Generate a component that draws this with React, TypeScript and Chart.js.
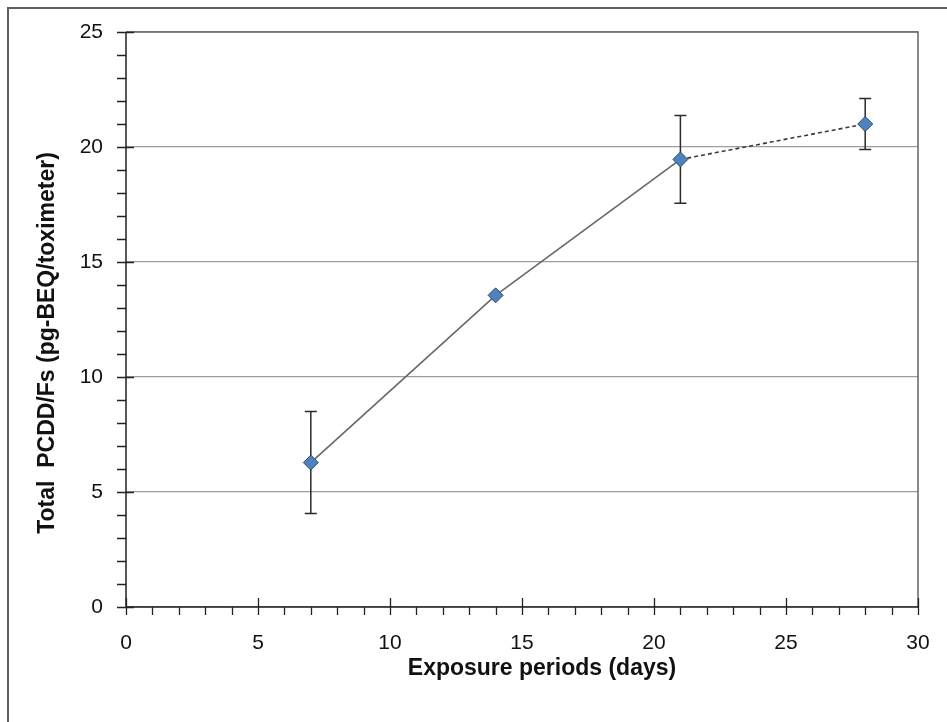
import React, { useEffect, useRef } from "react";
import { Chart, registerables } from "chart.js";

Chart.register(...registerables);

const days = [7, 14, 21, 28];
const pcdd = [6.28, 13.55, 19.46, 21.0];
const errors = [2.22, 0, 1.91, 1.11];
const xTitle = "Exposure periods (days)";
const yTitle = "Total  PCDD/Fs (pg-BEQ/toximeter)";
const xMin = 0, xMax = 30, xStep = 5, xMinor = 1;
const yMin = 0, yMax = 25, yStep = 5, yMinor = 1;

const FONT = "'Liberation Sans', Arial, sans-serif";

const decorPlugin = {
  id: "decor",
  beforeDraw(chart: any) {
    const ctx = chart.ctx;
    ctx.save();
    ctx.fillStyle = "#ffffff";
    ctx.fillRect(0, 0, chart.width, chart.height);
    ctx.strokeStyle = "#5f5f5f";
    ctx.lineWidth = 2;
    ctx.beginPath();
    ctx.moveTo(8, chart.height + 5);
    ctx.lineTo(8, 8);
    ctx.lineTo(chart.width + 5, 8);
    ctx.stroke();
    ctx.restore();
  },
  afterDraw(chart: any) {
    const ctx = chart.ctx;
    const { left, right, top, bottom } = chart.chartArea;
    const xs = chart.scales.x;
    const ys = chart.scales.y;
    ctx.save();
    // plot border top & right
    ctx.strokeStyle = "#666666";
    ctx.lineWidth = 1.5;
    ctx.beginPath();
    ctx.moveTo(left, top);
    ctx.lineTo(right, top);
    ctx.lineTo(right, bottom);
    ctx.stroke();
    // axes
    ctx.strokeStyle = "#222";
    ctx.lineWidth = 1.5;
    ctx.beginPath();
    ctx.moveTo(left, top);
    ctx.lineTo(left, bottom);
    ctx.lineTo(right, bottom);
    ctx.stroke();
    // ticks
    ctx.lineWidth = 1.3;
    ctx.beginPath();
    for (let v = yMin; v <= yMax + 1e-9; v += yMinor) {
      const py = Math.round(ys.getPixelForValue(v)) + 0.5;
      const major = Math.abs(v / yStep - Math.round(v / yStep)) < 1e-6;
      ctx.moveTo(left - 9, py);
      ctx.lineTo(major ? left + 8 : left, py);
    }
    for (let v = xMin; v <= xMax + 1e-9; v += xMinor) {
      const px = Math.round(xs.getPixelForValue(v)) + 0.5;
      const major = Math.abs(v / xStep - Math.round(v / xStep)) < 1e-6;
      ctx.moveTo(px, bottom + 8);
      ctx.lineTo(px, major ? bottom - 9 : bottom);
    }
    ctx.stroke();
    // titles
    ctx.fillStyle = "#111";
    ctx.font = `bold 23px ${FONT}`;
    ctx.textAlign = "center";
    ctx.textBaseline = "middle";
    ctx.fillText(xTitle, 542, 669);
    ctx.translate(48, 343);
    ctx.rotate(-Math.PI / 2);
    ctx.fillText(yTitle, 0, 0);
    ctx.restore();
  },
};

const errorBarPlugin = {
  id: "errorBars",
  beforeDatasetsDraw(chart: any) {
    const ctx = chart.ctx;
    const xs = chart.scales.x;
    const ys = chart.scales.y;
    ctx.save();
    ctx.strokeStyle = "#2a2a2a";
    ctx.lineWidth = 1.5;
    ctx.beginPath();
    days.forEach((d, i) => {
      const e = errors[i];
      if (!e) return;
      const px = xs.getPixelForValue(d);
      const pt = ys.getPixelForValue(pcdd[i] + e);
      const pb = ys.getPixelForValue(pcdd[i] - e);
      ctx.moveTo(px, pt);
      ctx.lineTo(px, pb);
      ctx.moveTo(px - 6, pt);
      ctx.lineTo(px + 6, pt);
      ctx.moveTo(px - 6, pb);
      ctx.lineTo(px + 6, pb);
    });
    ctx.stroke();
    ctx.restore();
  },
};

export default function App() {
  const ref = useRef<HTMLCanvasElement | null>(null);
  useEffect(() => {
    if (!ref.current) return;
    const chart = new Chart(ref.current, {
      type: "line",
      data: {
        datasets: [
          {
            data: days.map((d, i) => ({ x: d, y: pcdd[i] })),
            borderColor: "#686868",
            borderWidth: 1.6,
            pointStyle: "rectRot",
            pointRadius: 7.5,
            pointHoverRadius: 7.5,
            pointBackgroundColor: "#4f81bd",
            pointBorderColor: "#2b4a72",
            pointBorderWidth: 1,
            segment: {
              borderDash: (c: any) => (c.p0DataIndex === 2 ? [4, 3] : undefined),
              borderColor: (c: any) => (c.p0DataIndex === 2 ? "#3a3a3a" : undefined),
            },
          } as any,
        ],
      },
      options: {
        responsive: false,
        animation: false,
        layout: { padding: { left: 0, right: 29, top: 32, bottom: 0 } },
        plugins: { legend: { display: false }, tooltip: { enabled: false } },
        scales: {
          x: {
            type: "linear",
            min: xMin,
            max: xMax,
            afterFit: (s: any) => {
              s.height = 115;
              s.paddingLeft = 0;
              s.paddingRight = 0;
            },
            ticks: {
              stepSize: xStep,
              padding: 24,
              color: "#111",
              font: { family: FONT, size: 21 },
            },
            grid: { display: false, drawTicks: false },
            border: { display: false },
          },
          y: {
            type: "linear",
            min: yMin,
            max: yMax,
            afterFit: (s: any) => {
              s.width = 126;
              s.paddingTop = 0;
              s.paddingBottom = 0;
            },
            ticks: {
              stepSize: yStep,
              padding: 23,
              color: "#111",
              font: { family: FONT, size: 21 },
            },
            grid: { color: "#9c9c9c", lineWidth: 1.3, drawTicks: false },
            border: { display: false },
          },
        },
      } as any,
      plugins: [decorPlugin, errorBarPlugin],
    });
    return () => chart.destroy();
  }, []);
  return (
    <div style={{ position: "absolute", left: 0, top: 0, width: 947, height: 722 }}>
      <canvas ref={ref} width={947} height={722} />
    </div>
  );
}
